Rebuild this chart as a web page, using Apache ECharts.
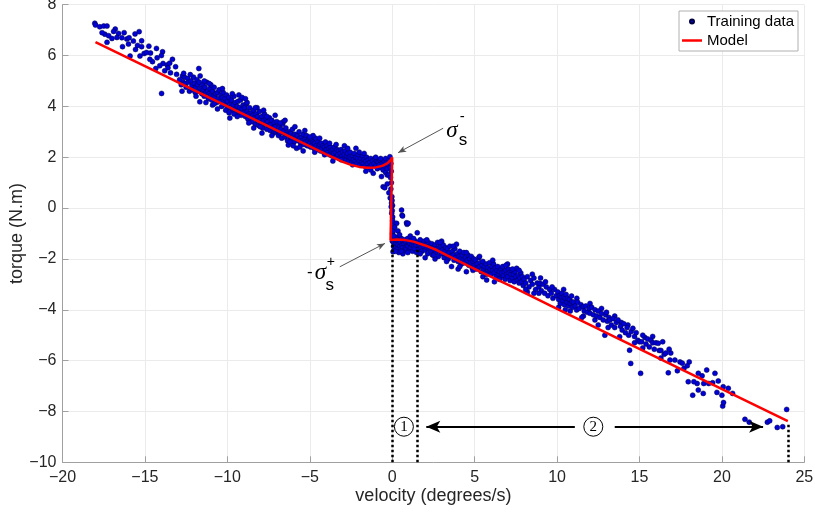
<!DOCTYPE html>
<html><head><meta charset="utf-8">
<script src="https://cdn.jsdelivr.net/npm/echarts@6/dist/echarts.min.js"></script>
<style>html,body{margin:0;padding:0;background:#fff}#c{width:815px;height:518px}</style>
</head><body><div id="c"></div>
<script>
// ---- data (velocity deg/s, torque N.m) ----
const trainData = [
[-18.04,7.27],[-18.0,7.2],[-17.74,7.13],[-17.5,7.16],[-17.3,7.16],[-17.43,6.84],[-17.2,6.78],[-17.0,6.67],[-17.3,6.52],[-16.8,7.04],[-16.6,6.87],[-16.7,6.71],[-16.4,6.7],[-16.36,6.35],[-16.26,6.9],[-16.1,6.65],[-15.96,6.7],[-15.7,6.57],[-15.6,6.85],[-15.35,6.94],[-15.2,6.58],[-15.57,6.24],[-15.2,6.35],[-14.76,6.37],[-15.9,5.98],[-15.3,5.98],[-15.05,6.08],[-14.9,6.12],[-14.66,6.1],[-14.3,6.28],[-13.93,6.15],[-14.54,5.76],[-14.26,5.91],[-13.9,5.69],[-13.65,5.63],[-13.6,5.52],[-13.33,5.85],[-13.14,5.56],[-13.45,5.32],[-13.08,5.26],[-14.34,5.49],[-13.99,4.51],[-12.72,5.2],[-12.6,5.15],[-11.73,5.49],[-12.7,4.97],[-16.9,6.95],[-17.6,6.9],[-16.0,6.45],[-14.7,5.85],[-14.1,5.6],[-13.8,5.4],[-13.5,5.7],[-14.0,6.0],[-15.45,6.4],
[-12.9,5.05],[-12.8,4.85],[-12.65,5.3],[-12.55,4.9],[-12.5,4.75],[-12.4,5.1],[-12.35,4.95],[-12.3,4.6],[-12.2,5.0],[-12.15,4.8],[-12.1,4.65],[-12.05,5.15],[-12.0,4.9],[-11.95,4.55],[-11.9,4.75],[-11.85,5.05],[-11.8,4.85],[-11.75,4.6],[-11.7,4.95],[-11.67,4.18],[-11.6,4.7],[-11.55,4.5],[-11.5,4.85],[-11.45,4.65],[-11.4,4.4],[-11.35,4.75],[-11.3,4.55],[-11.25,4.95],[-11.2,4.6],[-11.15,4.3],[-11.1,4.5],[-11.05,4.7],[-11.0,4.45],[-10.95,4.25],[-10.9,4.6],[-10.85,4.4],[-10.8,4.75],[-10.75,4.35],[-10.7,4.5],[-10.65,4.15],[-10.6,4.55],[-10.55,4.3],[-10.5,4.65],[-10.45,4.2],[-10.4,4.45],[-10.35,4.0],[-10.3,4.35],[-10.25,4.55],[-10.2,4.15],[-10.15,4.3],[-10.1,4.05],[-10.05,4.45],[-10.0,4.2],[-12.25,5.25],[-11.65,5.2],[-11.0,4.85],[-10.6,3.9],[-12.75,4.6],[-11.3,4.15],[-10.9,4.05],
[-9.95,3.95],[-9.9,4.35],[-9.85,3.54],[-9.8,4.1],[-9.75,4.25],[-9.7,3.85],[-9.65,4.05],[-9.6,4.4],[-9.55,3.9],[-9.5,4.15],[-9.45,3.75],[-9.4,4.0],[-9.35,4.2],[-9.3,3.8],[-9.25,3.95],[-9.2,4.25],[-9.15,3.65],[-9.1,3.9],[-9.05,4.05],[-9.0,3.75],[-8.95,3.95],[-8.9,3.6],[-8.85,4.1],[-8.8,3.8],[-8.75,3.5],[-8.7,3.7],[-8.65,3.95],[-8.6,3.54],[-8.55,3.75],[-8.5,3.4],[-8.45,3.65],[-8.4,3.85],[-8.35,3.55],[-8.3,3.3],[-8.25,3.7],[-8.2,3.45],[-8.15,3.6],[-8.1,3.25],[-8.05,3.8],[-8.0,3.5],[-7.95,3.35],[-7.9,3.6],[-7.85,3.15],[-7.8,3.45],[-7.75,3.7],[-7.7,3.3],[-7.65,3.5],[-7.6,3.1],[-7.55,3.4],[-7.5,3.25],[-7.45,3.55],[-7.4,3.05],[-7.35,3.3],[-7.3,3.45],[-7.25,3.15],[-7.2,2.95],[-7.15,3.35],[-7.1,3.2],[-7.05,3.0],[-7.0,3.4],[-9.3,4.45],[-8.8,4.15],[-8.4,3.15],[-7.9,2.95],[-9.6,3.7],[-8.2,3.95],
[-6.95,3.05],[-6.9,2.85],[-6.85,3.25],[-6.8,2.95],[-6.75,3.1],[-6.7,2.75],[-6.65,3.3],[-6.6,2.95],[-6.55,3.05],[-6.5,2.8],[-6.45,3.15],[-6.4,2.9],[-6.35,2.65],[-6.3,2.48],[-6.25,3.0],[-6.2,2.8],[-6.15,2.95],[-6.1,2.7],[-6.05,3.1],[-6.0,2.85],[-5.95,2.6],[-5.9,2.9],[-5.85,2.75],[-5.8,2.35],[-5.75,2.85],[-5.7,2.65],[-5.65,3.0],[-5.6,2.75],[-5.55,2.55],[-5.5,2.8],[-5.45,2.65],[-5.4,2.9],[-5.35,2.5],[-5.3,2.7],[-5.25,2.6],[-5.2,2.85],[-5.15,2.45],[-5.1,2.65],[-5.05,2.75],[-5.0,2.55],[-4.95,2.4],[-4.9,2.7],[-4.85,2.5],[-4.8,2.6],[-4.75,2.35],[-4.7,2.55],[-4.65,2.75],[-4.6,2.45],[-4.55,2.3],[-4.5,2.6],[-4.45,2.4],[-4.4,2.5],[-4.35,2.25],[-4.3,2.55],[-4.25,2.35],[-4.2,2.45],[-4.15,2.2],[-4.1,2.4],[-4.05,2.6],[-4.0,2.3],[-6.6,3.4],[-5.4,2.25],[-6.0,2.45],[-4.8,2.85],
[-3.95,2.45],[-3.9,2.2],[-3.85,2.35],[-3.8,2.1],[-3.75,2.4],[-3.7,2.25],[-3.65,2.05],[-3.6,2.3],[-3.55,2.15],[-3.5,2.4],[-3.45,2.2],[-3.4,2.0],[-3.35,2.3],[-3.3,2.1],[-3.25,2.25],[-3.2,1.95],[-3.15,2.15],[-3.1,2.3],[-3.05,2.05],[-3.0,2.2],[-2.95,1.95],[-2.9,2.1],[-2.85,2.25],[-2.8,1.9],[-2.75,2.05],[-2.7,2.15],[-2.65,1.85],[-2.6,2.0],[-2.55,2.2],[-2.5,1.95],[-2.45,1.8],[-2.4,2.05],[-2.35,1.9],[-2.3,2.15],[-2.25,1.85],[-2.2,2.0],[-2.15,1.75],[-2.1,1.95],[-2.05,2.1],[-2.0,1.85],[-1.95,1.7],[-1.9,1.95],[-1.85,1.8],[-1.8,2.05],[-1.75,1.75],[-1.7,1.9],[-1.65,1.65],[-1.6,1.85],[-1.55,2.0],[-1.5,1.75],[-1.45,1.9],[-1.4,1.6],[-1.35,1.8],[-1.3,1.95],[-1.25,1.7],[-1.2,1.85],[-1.15,1.37],[-1.1,1.75],[-1.05,1.95],[-1.0,1.65],[-0.95,1.85],[-0.9,1.55],[-0.85,1.8],[-0.8,1.7],[-0.75,1.9],[-0.7,1.6],[-0.65,1.24],[-0.6,1.75],[-0.55,1.5],[-0.5,1.85],[-0.45,1.65],[-0.4,1.4],[-0.35,1.8],[-0.3,1.55],[-3.6,1.85],[-2.9,2.45],[-2.2,2.35],[-1.6,1.45],
[-11.9,4.4],[-11.4,5.0],[-11.1,4.9],[-10.8,4.1],[-10.3,4.7],[-10.1,3.85],[-9.9,3.75],[-9.7,4.5],[-9.4,3.6],[-9.1,4.35],[-8.9,4.3],[-8.7,3.35],[-8.3,3.95],[-8.0,3.2],[-7.8,3.85],[-7.6,3.6],[-7.3,2.85],[-7.1,3.65],[-6.8,3.35],[-6.5,3.45],[-6.2,2.6],[-5.9,3.2],[-5.6,2.4],[-5.3,3.05],[-5.0,2.8],[-4.7,2.2],[-4.4,2.75],[-4.1,2.1],[-3.8,2.55],[-3.4,2.5],[-3.1,1.9],[-2.7,2.35],[-2.4,1.7],[-2.0,2.2],[-1.7,2.15],[-1.3,1.5],[-1.0,2.0],[-0.7,1.95],[-0.4,1.95],[-0.3,1.3],
[-0.25,1.7],[-0.2,1.3],[-0.18,1.9],[-0.14,2.02],[-0.12,1.6],[-0.1,1.2],[-0.08,1.75],[-0.06,1.45],[-0.05,1.0],[-0.55,0.84],[-0.45,0.8],[-0.3,0.95],[-0.2,0.6],[-0.12,0.4],[-0.08,0.75],[-0.04,0.2],[-0.02,0.45],[0.0,-0.1],[0.02,0.1],[0.03,-0.35],[0.05,-0.6],[-0.03,-0.2],[0.04,-0.8],[0.02,-1.0],[0.06,-0.9],[0.08,-1.15],[0.01,-1.3],[0.03,-0.5],[-0.01,0.3],[-0.06,0.05],[0.57,-0.08],[0.6,-0.28],[0.63,-0.31],[0.87,-0.58],[0.9,-0.64],[0.27,-0.6],[0.97,-0.6],[1.52,-0.97],[0.35,-0.9],[0.15,-0.75],
[0.05,-1.25],[0.08,-1.5],[0.1,-1.35],[0.12,-1.65],[0.15,-1.2],[0.18,-1.45],[0.2,-1.3],[0.22,-1.55],[0.25,-1.4],[0.28,-1.15],[0.3,-1.6],[0.33,-1.3],[0.36,-1.45],[0.4,-1.75],[0.43,-1.25],[0.46,-1.5],[0.5,-1.35],[0.53,-1.6],[0.56,-1.2],[0.6,-1.45],[0.63,-1.55],[0.66,-1.3],[0.7,-1.7],[0.73,-1.4],[0.76,-1.25],[0.8,-1.55],[0.83,-1.35],[0.86,-1.6],[0.9,-1.45],[0.93,-1.2],[0.96,-1.5],[1.0,-1.35],[1.04,-1.65],[1.08,-1.4],[1.12,-1.55],[1.16,-1.25],[1.2,-1.45],[1.24,-1.7],[1.28,-1.35],[1.32,-1.5],[1.36,-1.6],[1.4,-1.3],[1.44,-1.45],[1.48,-1.75],[0.1,-1.1],[0.45,-1.05],[0.05,-1.72],[0.65,-1.8],[1.1,-1.1],
[1.55,-1.35],[1.6,-1.6],[1.65,-1.45],[1.7,-1.25],[1.75,-1.55],[1.8,-1.7],[1.85,-1.4],[1.9,-1.5],[1.95,-1.3],[2.0,-1.65],[2.05,-1.45],[2.1,-1.55],[2.15,-1.8],[2.2,-1.35],[2.25,-1.6],[2.3,-1.5],[2.35,-1.7],[2.4,-1.4],[2.45,-1.85],[2.5,-1.55],[2.55,-1.65],[2.6,-1.45],[2.65,-1.75],[2.7,-1.6],[2.75,-1.35],[2.8,-1.9],[2.85,-1.55],[2.9,-1.7],[2.95,-1.5],[3.0,-1.8],[3.05,-1.65],[3.1,-1.45],[3.15,-1.95],[3.2,-1.7],[3.25,-1.55],[3.3,-1.85],[3.35,-1.6],[3.4,-2.0],[3.45,-1.75],[3.5,-1.5],[3.55,-1.9],[3.6,-2.3],[3.65,-1.7],[3.7,-1.85],[3.75,-2.05],[3.8,-1.6],[3.85,-1.95],[3.9,-1.42],[3.95,-1.8],[4.0,-2.1],[4.05,-1.9],[4.1,-1.7],[4.15,-2.0],[4.2,-2.2],[4.25,-1.85],[4.3,-2.05],[4.35,-1.75],[4.4,-2.15],[4.45,-1.95],[4.5,-2.5],[4.55,-2.05],[4.6,-1.85],[4.65,-2.25],[4.7,-2.0],[4.75,-2.15],[4.8,-1.9],[4.85,-2.35],[4.9,-2.1],[4.95,-2.0],[5.0,-2.25],[2.0,-1.95],[3.0,-1.3],[4.0,-2.4],[2.6,-2.0],
[5.05,-2.05],[5.1,-2.4],[5.15,-2.2],[5.2,-2.35],[5.25,-1.95],[5.3,-2.3],[5.35,-2.15],[5.4,-2.5],[5.45,-2.25],[5.5,-2.1],[5.55,-2.4],[5.6,-2.3],[5.65,-2.55],[5.7,-2.2],[5.73,-2.83],[5.8,-2.35],[5.85,-2.5],[5.9,-2.15],[5.95,-2.4],[6.0,-2.6],[6.05,-2.3],[6.1,-2.45],[6.15,-2.2],[6.2,-2.55],[6.25,-2.35],[6.3,-2.7],[6.35,-2.45],[6.4,-2.3],[6.45,-2.6],[6.5,-2.5],[6.55,-2.75],[6.6,-2.4],[6.65,-2.55],[6.7,-2.3],[6.75,-2.65],[6.8,-2.5],[6.85,-2.8],[6.9,-2.45],[6.95,-2.6],[7.0,-2.7],[7.05,-2.4],[7.1,-2.55],[7.15,-2.85],[7.2,-2.6],[7.25,-2.45],[7.3,-2.75],[7.35,-2.6],[7.4,-2.9],[7.45,-2.5],[7.5,-2.7],[7.55,-2.37],[7.6,-2.85],[7.65,-2.65],[7.7,-2.95],[7.75,-2.75],[7.8,-2.55],[7.85,-2.9],[7.9,-2.7],[7.95,-3.05],[8.0,-2.8],[8.1,-2.95],[8.2,-2.7],[8.3,-3.1],[8.4,-2.85],[8.5,-3.0],[8.6,-2.75],[8.7,-3.2],[8.8,-2.95],[8.9,-3.1],[8.96,-2.96],[9.05,-3.25],[9.15,-3.0],[9.25,-3.35],[9.35,-3.1],[9.45,-3.45],[9.55,-3.2],[9.65,-3.35],[9.75,-3.55],[9.85,-3.2],[9.95,-3.45],[6.2,-2.9],[7.0,-2.2],[8.2,-3.3],[9.0,-2.75],[5.5,-2.7],[8.6,-3.35],
[0.2,-1.7],[0.55,-1.7],[0.95,-1.75],[1.3,-1.2],[1.7,-1.8],[2.1,-1.25],[2.5,-1.85],[2.9,-1.35],[3.3,-2.1],[3.7,-1.5],[4.1,-2.3],[4.5,-1.75],[4.9,-2.45],[5.3,-1.9],[5.7,-2.6],[6.1,-2.05],[6.5,-2.8],[6.9,-2.25],[7.3,-2.4],[7.7,-2.45],[8.1,-3.2],[8.5,-2.6],[8.9,-3.35],[9.3,-2.9],[9.7,-3.1],[10.1,-3.9],[10.4,-3.2],[10.8,-4.05],[11.2,-3.55],[11.6,-4.25],[12.0,-3.75],[12.3,-4.4],[12.7,-3.95],[13.1,-4.7],[13.5,-4.25],[13.9,-4.5],[14.3,-4.6],[14.7,-5.3],[15.2,-5.5],[15.8,-5.05],[16.3,-5.9],[16.9,-5.7],[17.7,-6.3],[18.5,-6.9],
[10.05,-3.3],[10.1,-3.6],[10.15,-3.45],[10.2,-3.75],[10.25,-3.5],[10.3,-3.35],[10.35,-3.65],[10.4,-3.5],[10.45,-3.8],[10.5,-3.55],[10.55,-3.4],[10.6,-3.7],[10.65,-3.55],[10.7,-3.85],[10.75,-3.6],[10.8,-3.75],[10.88,-3.46],[10.9,-3.69],[10.95,-3.9],[11.0,-3.7],[11.1,-3.85],[11.19,-4.01],[11.25,-3.7],[11.35,-3.95],[11.45,-3.8],[11.59,-3.88],[11.65,-4.05],[11.75,-3.85],[11.85,-4.1],[11.95,-3.95],[12.0,-4.14],[12.1,-3.9],[12.2,-4.2],[12.3,-4.0],[12.4,-4.25],[12.5,-4.05],[12.6,-4.3],[12.7,-4.15],[12.8,-4.4],[12.9,-5.0],[12.95,-4.2],[13.05,-4.45],[13.15,-4.3],[13.2,-4.4],[13.3,-4.6],[13.4,-4.35],[13.5,-4.7],[13.6,-4.5],[13.7,-4.4],[13.8,-5.06],[13.85,-4.65],[13.95,-4.8],[14.05,-4.55],[14.15,-4.9],[14.25,-4.7],[14.35,-5.0],[14.4,-5.59],[14.47,-6.11],[14.5,-4.85],[14.6,-4.73],[14.7,-5.05],[14.8,-4.9],[14.9,-5.2],[15.0,-5.26],[11.5,-4.3],[12.5,-4.6],[13.0,-4.1],[10.5,-4.0],
[15.13,-5.26],[15.33,-5.09],[15.2,-5.0],[15.4,-5.35],[15.5,-5.15],[15.6,-5.46],[15.7,-5.2],[15.8,-5.3],[15.9,-5.55],[16.0,-5.3],[16.14,-5.32],[16.2,-5.6],[16.41,-5.26],[16.3,-5.6],[16.5,-5.75],[16.6,-5.7],[16.8,-5.55],[16.85,-5.98],[16.75,-6.48],[17.15,-5.98],[17.46,-6.05],[17.6,-6.1],[18.02,-6.05],[17.9,-6.2],[17.3,-6.4],[17.96,-6.83],[18.3,-6.83],[18.57,-6.5],[18.8,-6.6],[19.08,-6.37],[18.9,-6.9],[18.57,-7.16],[18.87,-7.29],[19.2,-6.9],[19.44,-6.87],[19.58,-6.5],[19.78,-6.8],[20.08,-7.03],[19.7,-7.25],[20.39,-7.09],[20.0,-7.36],[20.65,-7.29],[20.05,-7.79],[15.07,-6.5],[18.23,-7.36],[20.1,-7.65],
[21.4,-8.31],[21.66,-8.42],[22.76,-8.42],[22.9,-8.37],[23.36,-8.63],[23.69,-8.6],[23.93,-7.92]
];
const modelData = [
[-18,6.53],[-16,5.9],[-14,5.27],[-12,4.63],[-10,4.0],[-8,3.37],[-6,2.74],[-4,2.11],[-3,1.82],[-2.5,1.7],[-2,1.62],[-1.5,1.585],[-1.0,1.6],[-0.6,1.66],[-0.3,1.76],[-0.1,1.88],[0,1.99],
[-0.1,-1.26],[0.3,-1.24],[0.8,-1.26],[1.3,-1.32],[2,-1.47],[2.7,-1.65],[3.3,-1.85],[5.3,-2.49],[7.3,-3.1],[9.6,-3.84],[24,-8.38]
];
const seriesNames = ['Training data', 'Model'];
const axisNames = ['velocity (degrees/s)', 'torque (N.m)'];
const xRange = [-20, 25, 5];
const yRange = [-10, 8, 2];
// annotation anchors (data coords)
const dottedLines = [[[0,-10],[0,-1.42]], [[1.5,-10],[1.5,-1.53]], [[24,-10],[24,-8.5]]];
const bigArrows = [[[11.08,-8.6],[2.07,-8.6]], [[13.5,-8.6],[22.5,-8.6]]];
const thinArrows = [[[3.09,3.14],[0.36,2.18]], [[-3.18,-2.31],[-0.44,-1.39]]];
const circledMarks = [{v:[0.71,-8.6], t:'1'}, {v:[12.2,-8.6], t:'2'}];

const minus = v => String(v).replace('-', '\u2212');
const serif = 'Liberation Serif, DejaVu Serif, serif';
const sans = 'Liberation Sans, Arial, Helvetica, sans-serif';
const seg = c => [{coord:c[0]}, {coord:c[1]}];
function txt(coord, text, size, family, italic) {
  return {coord, symbol:'circle', symbolSize:0,
    label:{show:true, position:'inside', formatter:text, fontSize:size, fontFamily:family,
      fontStyle: italic ? 'italic' : 'normal', color:'#000'}};
}
const chart = echarts.init(document.getElementById('c'), null, {renderer:'canvas'});
chart.setOption({
  animation:false,
  backgroundColor:'#fff',
  grid:{left:62.5, top:4.7, width:741.8, height:457.6, containLabel:false, outerBoundsMode:'none'},
  xAxis:{type:'value', min:xRange[0], max:xRange[1], interval:xRange[2],
    name:axisNames[0], nameLocation:'middle', nameGap:25, nameMoveOverlap:false,
    nameTextStyle:{fontSize:18, color:'#262626', fontFamily:sans},
    axisLine:{show:true, onZero:false, lineStyle:{color:'#a0a0a0', width:1}},
    axisTick:{show:true, inside:true, length:6, lineStyle:{color:'#a0a0a0'}},
    axisLabel:{fontSize:16, color:'#262626', fontFamily:sans, margin:7, formatter:minus},
    splitLine:{show:true, lineStyle:{color:'#ebebeb', width:1}}},
  yAxis:{type:'value', min:yRange[0], max:yRange[1], interval:yRange[2],
    name:axisNames[1], nameLocation:'middle', nameGap:36, nameRotate:90, nameMoveOverlap:false,
    nameTextStyle:{fontSize:18, color:'#262626', fontFamily:sans},
    axisLine:{show:true, onZero:false, lineStyle:{color:'#a0a0a0', width:1}},
    axisTick:{show:true, inside:true, length:6, lineStyle:{color:'#a0a0a0'}},
    axisLabel:{fontSize:16, color:'#262626', fontFamily:sans, margin:6, formatter:minus},
    splitLine:{show:true, lineStyle:{color:'#ebebeb', width:1}}},
  legend:{data:[{name:seriesNames[0], icon:'circle'},
                {name:seriesNames[1], icon:'path://M0,0 L20,0 L20,2.5 L0,2.5 Z'}],
    orient:'vertical', right:17, top:11, itemWidth:20, itemHeight:4, itemGap:4,
    padding:[3,4,3,3], borderColor:'#b0b0b0', borderWidth:1, backgroundColor:'#fff',
    textStyle:{fontSize:15, color:'#000', fontFamily:sans}},
  series:[
    {name:seriesNames[0], type:'scatter', data:trainData, symbolSize:5, z:2,
     itemStyle:{color:'#0000d8', borderColor:'#000040', borderWidth:0.5, opacity:1}},
    {name:seriesNames[1], type:'line', data:modelData, symbol:'none', showSymbol:false, z:3,
     lineStyle:{color:'#ff0000', width:2.5}, itemStyle:{color:'#ff0000'}},
    {name:'dotted', type:'line', data:[], z:4,
     markLine:{silent:true, symbol:['none','none'], label:{show:false},
       lineStyle:{type:'dotted', color:'#000', width:2.5},
       data:dottedLines.map(seg)}},
    {name:'bigArrows', type:'line', data:[], z:4,
     markLine:{silent:true, symbol:['none','arrow'], symbolSize:[9,14], label:{show:false},
       lineStyle:{type:'solid', color:'#000', width:2},
       data:bigArrows.map(seg)}},
    {name:'thinArrows', type:'line', data:[], z:4,
     markLine:{silent:true, symbol:['none','arrow'], symbolSize:[5,8], label:{show:false},
       lineStyle:{type:'solid', color:'#555', width:1},
       data:thinArrows.map(seg)}},
    {name:'labels', type:'line', data:[], z:5,
     markPoint:{silent:true, data:[
       ...circledMarks.map(m => ({coord:m.v, symbol:'circle', symbolSize:19,
          itemStyle:{color:'#fff', borderColor:'#000', borderWidth:1},
          label:{show:true, position:'inside', formatter:m.t, fontSize:15, fontFamily:serif, color:'#000'}})),
       txt([3.62,3.03], 'σ', 23, serif, true),
       txt([4.25,3.6], '-', 15, sans, false),
       txt([4.29,2.67], 's', 17, sans, false),
       txt([-5.0,-2.52], '-', 17, sans, false),
       txt([-4.35,-2.56], 'σ', 23, serif, true),
       txt([-3.72,-2.12], '+', 14, sans, false),
       txt([-3.79,-3.03], 's', 17, sans, false)
     ]}}
  ]
});
</script></body></html>
